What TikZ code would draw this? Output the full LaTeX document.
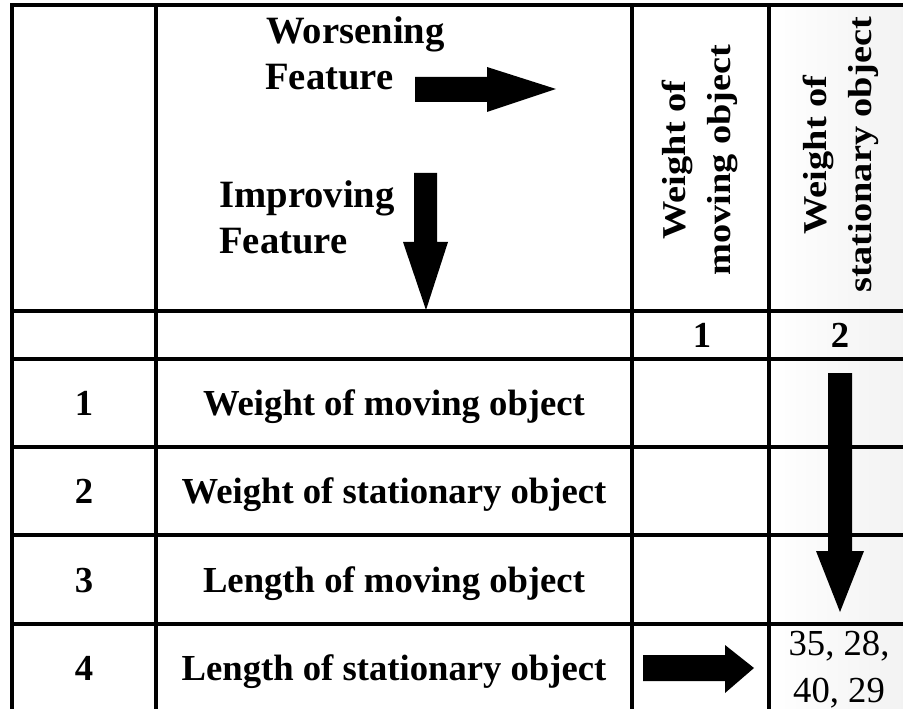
\documentclass[tikz,border=0pt]{standalone}
\usepackage{fontspec}
\setmainfont{Liberation Serif}
\newcommand{\rowfont}{\fontsize{27.5}{30}\selectfont\bfseries}
\newcommand{\hdrfont}{\fontsize{29}{32}\selectfont\bfseries}
\newcommand{\colfont}{\fontsize{25}{34}\selectfont\bfseries}
\newcommand{\valfont}{\fontsize{27.5}{35}\selectfont}
\newcommand{\wide}[2]{\scalebox{#1}[1]{#2}}

\begin{document}
\begin{tikzpicture}[x=0.75pt, y=-0.75pt,
  grid/.style={line width=2.3pt},
  rowtext/.style={font=\rowfont, anchor=base, inner sep=0pt},
  hdrtext/.style={font=\hdrfont, anchor=base west, inner sep=0pt},
  coltext/.style={font=\colfont, rotate=90, align=center, inner sep=0pt},
  valtext/.style={font=\valfont, anchor=base, inner sep=0pt}]
  \useasboundingbox (0,0) rectangle (903,709);
  % light background of the last column
  \shade[left color=white, right color=black!5] (769,5) rectangle (903,709);

  % table lines
  \draw[grid] (12,709) -- (12,5) -- (903,5);
  \foreach \x in {156,632,769} \draw[grid] (\x,5) -- (\x,709);
  \foreach \y in {311,359,447,535,624} \draw[grid] (12,\y) -- (903,\y);

  % header block
  \node[hdrtext] (wors) at (266,44) {Worsening};
  \node[hdrtext] (worsf) at (265,90) {Feature};
  \node[hdrtext] (impr) at (219,208) {Improving};
  \node[hdrtext] (imprf) at (219,254) {Feature};
  \fill (415,77) -- (487,77) -- (487,67) -- (556,89) -- (487,112) -- (487,102) -- (415,102) -- cycle;
  \fill (414,173) -- (437,173) -- (437,242) -- (448,242) -- (426,310) -- (403,242) -- (414,242) -- cycle;

  \node[coltext] (wmo) at (700,160) {\wide{1.15}{Weight of}\\\wide{1.15}{moving object}};
  \node[coltext] (wso) at (841,155) {\wide{1.15}{Weight of}\\\wide{1.15}{stationary object}};

  % numbers row
  \node[rowtext] (c1) at (702,347.5) {1};
  \node[rowtext] (c2) at (840,347.5) {2};

  % rows
  \node[rowtext] (n1) at (84,415.5) {1};
  \node[rowtext] (n2) at (84,503.5) {2};
  \node[rowtext] (n3) at (84,592) {3};
  \node[rowtext] (n4) at (84,680.5) {4};
  \node[rowtext] (r1) at (394,415.5) {Weight of moving object};
  \node[rowtext] (r2) at (394,503.5) {Weight of stationary object};
  \node[rowtext] (r3) at (394,592) {Length of moving object};
  \node[rowtext] (r4) at (394,680.5) {Length of stationary object};

  % arrows to the result
  \fill (828,373) -- (852,373) -- (852,551) -- (864,551) -- (840,612) -- (816,551) -- (828,551) -- cycle;
  \fill (643,655) -- (725,655) -- (725,645) -- (754,668) -- (725,693) -- (725,681) -- (643,681) -- cycle;
  \node[valtext] (v1) at (839,655) {35, 28,};
  \node[valtext] (v2) at (839,702) {40, 29};
\end{tikzpicture}
\end{document}
